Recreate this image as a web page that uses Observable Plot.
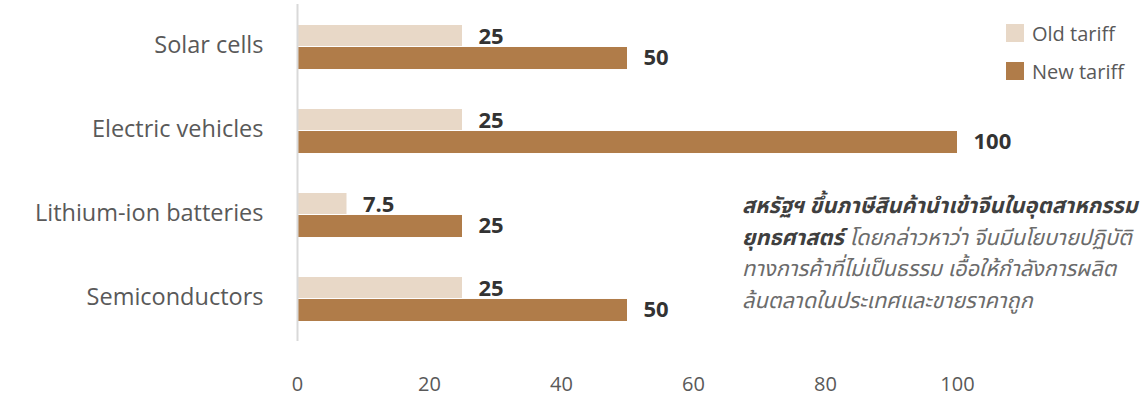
<!DOCTYPE html>
<html>
<head>
<meta charset="utf-8">
<script src="https://cdn.jsdelivr.net/npm/d3@7"></script>
<script src="https://cdn.jsdelivr.net/npm/@observablehq/plot@0.6"></script>
<style>
  html, body { margin: 0; padding: 0; background: #fff; }
  #wrap { position: relative; width: 1147px; height: 402px; overflow: hidden; font-family: "Open Sans", "Noto Sans", "Noto Sans Thai", sans-serif; }
  #legend { position: absolute; left: 1006px; top: 22px; }
  .item { display: flex; align-items: center; height: 22px; margin-bottom: 16px; font-size: 20px; color: #595959; }
  .sw { width: 18px; height: 18px; margin-right: 8px; }
  #note { position: absolute; left: 742px; top: 189px; width: 405px; font-size: 21.7px; line-height: 31.7px; font-style: italic; color: #6b6b6b; white-space: nowrap; }
  #note b { color: #3f3f3f; }
</style>
</head>
<body>
<div id="wrap"></div>
<script>
const categories = ["Solar cells", "Electric vehicles", "Lithium-ion batteries", "Semiconductors"];
const oldTariff = [25, 25, 7.5, 25];
const newTariff = [50, 100, 25, 50];
const seriesNames = ["Old tariff", "New tariff"];
const seriesColors = ["#e8d8c7", "#b07c49"];
const xTicks = [0, 20, 40, 60, 80, 100];
const noteBold1 = "สหรัฐฯ ขึ้นภาษีสินค้านำเข้าจีนในอุตสาหกรรม";
const noteBold2 = "ยุทธศาสตร์";
const noteLines = [" โดยกล่าวหาว่า จีนมีนโยบายปฏิบัติ", "ทางการค้าที่ไม่เป็นธรรม เอื้อให้กำลังการผลิต", "ล้นตลาดในประเทศและขายราคาถูก"];

const oldData = categories.map((c, i) => ({category: c, value: oldTariff[i]}));
const newData = categories.map((c, i) => ({category: c, value: newTariff[i]}));

const chart = Plot.plot({
  width: 1147,
  height: 402,
  marginLeft: 297,
  marginRight: 190,
  marginTop: 4,
  marginBottom: 61,
  style: {fontFamily: "'Open Sans', 'Noto Sans', sans-serif", background: "#fff", overflow: "visible"},
  x: {domain: [0, 100], axis: null},
  y: {domain: categories, range: [25, 321], paddingInner: 0.476, paddingOuter: 0, round: false, axis: null},
  marks: [
    Plot.barX(oldData, {x: "value", y: "category", fill: seriesColors[0], insetBottom: 23}),
    Plot.barX(newData, {x: "value", y: "category", fill: seriesColors[1], insetTop: 22}),
    Plot.ruleX([0], {stroke: "#d9d9d9", strokeWidth: 2}),
    Plot.text(oldData, {x: "value", y: "category", text: d => String(d.value), dx: 16, dy: -11, textAnchor: "start", fontSize: 22, fontWeight: "bold", fill: "#333333"}),
    Plot.text(newData, {x: "value", y: "category", text: d => String(d.value), dx: 16, dy: 10.5, textAnchor: "start", fontSize: 22, fontWeight: "bold", fill: "#333333"}),
    Plot.axisY({tickSize: 0, tickPadding: 34, fontSize: 23.5, dy: -2, color: "#595959", label: null}),
    Plot.axisX({ticks: xTicks, tickSize: 0, tickPadding: 35, fontSize: 20, color: "#595959", label: null, tickFormat: d => String(d)})
  ]
});

const wrap = document.getElementById("wrap");
wrap.appendChild(chart);

const legend = document.createElement("div");
legend.id = "legend";
seriesNames.forEach((n, i) => {
  const it = document.createElement("div");
  it.className = "item";
  const sw = document.createElement("div");
  sw.className = "sw";
  sw.style.background = seriesColors[i];
  const lab = document.createElement("span");
  lab.textContent = n;
  it.appendChild(sw); it.appendChild(lab);
  legend.appendChild(it);
});
wrap.appendChild(legend);

const note = document.createElement("div");
note.id = "note";
const b1 = document.createElement("b"); b1.textContent = noteBold1;
note.appendChild(b1); note.appendChild(document.createElement("br"));
const b2 = document.createElement("b"); b2.textContent = noteBold2;
note.appendChild(b2);
noteLines.forEach((l, i) => {
  if (i > 0) note.appendChild(document.createElement("br"));
  note.appendChild(document.createTextNode(l));
});
wrap.appendChild(note);
</script>
</body>
</html>
